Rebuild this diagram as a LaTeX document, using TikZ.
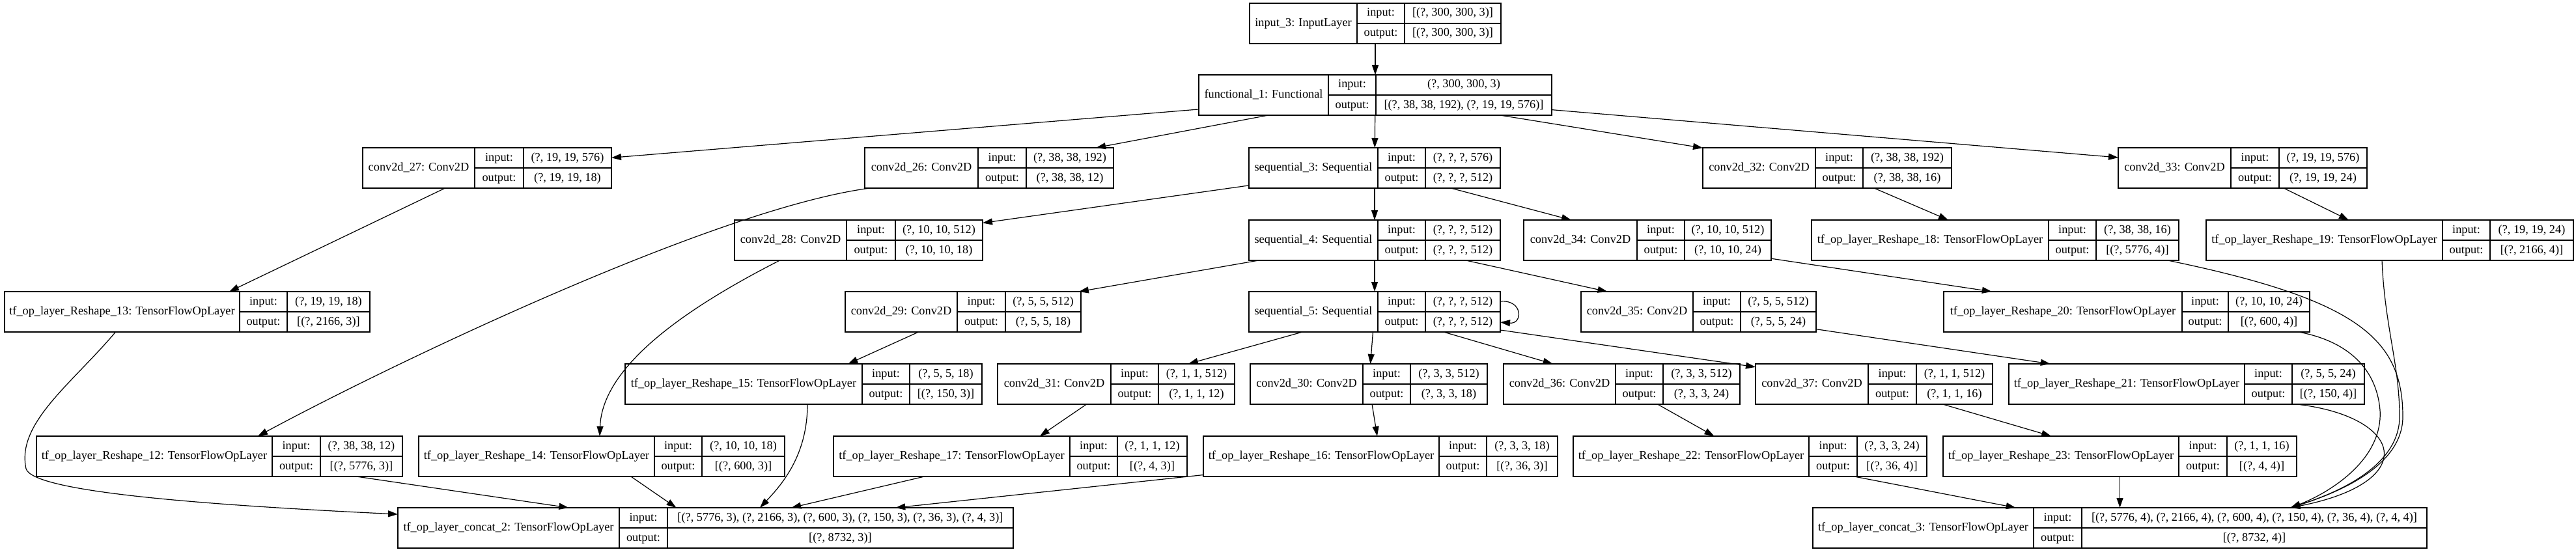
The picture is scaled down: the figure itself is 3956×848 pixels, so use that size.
\documentclass[tikz,border=0pt]{standalone}
\usepackage{fontspec}
\setmainfont{Liberation Serif}
\usetikzlibrary{arrows.meta,positioning}

\tikzset{
  layer/.style={draw=black,rectangle,line width=1.2pt,inner sep=0pt,outer sep=0pt,minimum height=62pt},
  cell/.style={inner sep=0pt,text height=13pt,text depth=4pt,font=\fontsize{18.3}{21}\selectfont},
  link/.style={->,line width=1.2pt},
}

% one keras layer: name, left, col, col, right, top, label, input, output
\newcommand{\layer}[9]{%
  \node[layer,minimum width={#5-#2}] (#1) at ({(#2+#5)/2},{#6+31}) {};
  \draw[line width=1.2pt] ({#3},{#6}) -- ({#3},{#6+62});
  \draw[line width=1.2pt] ({#4},{#6}) -- ({#4},{#6+62});
  \draw[line width=1.2pt] ({#3},{#6+31}) -- ({#5},{#6+31});
  \node[cell] (#1-name) at ({(#2+#3)/2},{#6+31}) {#7};
  \node[cell] (#1-in) at ({(#3+#4)/2},{#6+15.5}) {input:};
  \node[cell] (#1-out) at ({(#3+#4)/2},{#6+46.5}) {output:};
  \node[cell] (#1-inv) at ({(#4+#5)/2},{#6+15.5}) {#8};
  \node[cell] (#1-outv) at ({(#4+#5)/2},{#6+46.5}) {#9};
}

\begin{document}
\begin{tikzpicture}[x=1pt,y=-1pt,>={Triangle[length=15pt,width=10pt]}]
\useasboundingbox (0,0) rectangle (3956,848);

\layer{inp}{1919}{2084}{2157}{2305}{5}{input\_3: InputLayer}{[(?, 300, 300, 3)]}{[(?, 300, 300, 3)]}
\layer{fn}{1841}{2040}{2113}{2383}{115}{functional\_1: Functional}{(?, 300, 300, 3)}{[(?, 38, 38, 192), (?, 19, 19, 576)]}

\layer{c27}{557}{729}{804}{939}{227}{conv2d\_27: Conv2D}{(?, 19, 19, 576)}{(?, 19, 19, 18)}
\layer{c26}{1328}{1502}{1576}{1710}{227}{conv2d\_26: Conv2D}{(?, 38, 38, 192)}{(?, 38, 38, 12)}
\layer{s3}{1918}{2116}{2189}{2304}{227}{sequential\_3: Sequential}{(?, ?, ?, 576)}{(?, ?, ?, 512)}
\layer{c32}{2615}{2788}{2861}{2997}{227}{conv2d\_32: Conv2D}{(?, 38, 38, 192)}{(?, 38, 38, 16)}
\layer{c33}{3253}{3426}{3500}{3635}{227}{conv2d\_33: Conv2D}{(?, 19, 19, 576)}{(?, 19, 19, 24)}

\layer{c28}{1128}{1300}{1375}{1509}{338}{conv2d\_28: Conv2D}{(?, 10, 10, 512)}{(?, 10, 10, 18)}
\layer{s4}{1918}{2116}{2189}{2304}{338}{sequential\_4: Sequential}{(?, ?, ?, 512)}{(?, ?, ?, 512)}
\layer{c34}{2340}{2514}{2587}{2720}{338}{conv2d\_34: Conv2D}{(?, 10, 10, 512)}{(?, 10, 10, 24)}
\layer{r18}{2782}{3146}{3219}{3346}{338}{tf\_op\_layer\_Reshape\_18: TensorFlowOpLayer}{(?, 38, 38, 16)}{[(?, 5776, 4)]}
\layer{r19}{3388}{3751}{3824}{3952}{338}{tf\_op\_layer\_Reshape\_19: TensorFlowOpLayer}{(?, 19, 19, 24)}{[(?, 2166, 4)]}

\layer{r13}{7}{368}{441}{568}{448}{tf\_op\_layer\_Reshape\_13: TensorFlowOpLayer}{(?, 19, 19, 18)}{[(?, 2166, 3)]}
\layer{c29}{1298}{1470}{1544}{1660}{448}{conv2d\_29: Conv2D}{(?, 5, 5, 512)}{(?, 5, 5, 18)}
\layer{s5}{1918}{2116}{2189}{2304}{448}{sequential\_5: Sequential}{(?, ?, ?, 512)}{(?, ?, ?, 512)}
\layer{c35}{2428}{2600}{2673}{2789}{448}{conv2d\_35: Conv2D}{(?, 5, 5, 512)}{(?, 5, 5, 24)}
\layer{r20}{2985}{3351}{3422}{3547}{448}{tf\_op\_layer\_Reshape\_20: TensorFlowOpLayer}{(?, 10, 10, 24)}{[(?, 600, 4)]}

\layer{r15}{960}{1324}{1397}{1508}{559}{tf\_op\_layer\_Reshape\_15: TensorFlowOpLayer}{(?, 5, 5, 18)}{[(?, 150, 3)]}
\layer{c31}{1532}{1706}{1779}{1896}{559}{conv2d\_31: Conv2D}{(?, 1, 1, 512)}{(?, 1, 1, 12)}
\layer{c30}{1920}{2093}{2166}{2284}{559}{conv2d\_30: Conv2D}{(?, 3, 3, 512)}{(?, 3, 3, 18)}
\layer{c36}{2309}{2481}{2554}{2672}{559}{conv2d\_36: Conv2D}{(?, 3, 3, 512)}{(?, 3, 3, 24)}
\layer{c37}{2696}{2869}{2943}{3060}{559}{conv2d\_37: Conv2D}{(?, 1, 1, 512)}{(?, 1, 1, 16)}
\layer{r21}{3085}{3447}{3520}{3631}{559}{tf\_op\_layer\_Reshape\_21: TensorFlowOpLayer}{(?, 5, 5, 24)}{[(?, 150, 4)]}

\layer{r12}{56}{418}{492}{618}{670}{tf\_op\_layer\_Reshape\_12: TensorFlowOpLayer}{(?, 38, 38, 12)}{[(?, 5776, 3)]}
\layer{r14}{643}{1005}{1078}{1205}{670}{tf\_op\_layer\_Reshape\_14: TensorFlowOpLayer}{(?, 10, 10, 18)}{[(?, 600, 3)]}
\layer{r17}{1280}{1643}{1716}{1823}{670}{tf\_op\_layer\_Reshape\_17: TensorFlowOpLayer}{(?, 1, 1, 12)}{[(?, 4, 3)]}
\layer{r16}{1848}{2210}{2283}{2392}{670}{tf\_op\_layer\_Reshape\_16: TensorFlowOpLayer}{(?, 3, 3, 18)}{[(?, 36, 3)]}
\layer{r22}{2416}{2778}{2852}{2959}{670}{tf\_op\_layer\_Reshape\_22: TensorFlowOpLayer}{(?, 3, 3, 24)}{[(?, 36, 4)]}
\layer{r23}{2984}{3346}{3420}{3527}{670}{tf\_op\_layer\_Reshape\_23: TensorFlowOpLayer}{(?, 1, 1, 16)}{[(?, 4, 4)]}

\layer{cat2}{611}{951}{1025}{1556}{780}{tf\_op\_layer\_concat\_2: TensorFlowOpLayer}{[(?, 5776, 3), (?, 2166, 3), (?, 600, 3), (?, 150, 3), (?, 36, 3), (?, 4, 3)]}{[(?, 8732, 3)]}
\layer{cat3}{2784}{3123}{3197}{3727}{780}{tf\_op\_layer\_concat\_3: TensorFlowOpLayer}{[(?, 5776, 4), (?, 2166, 4), (?, 600, 4), (?, 150, 4), (?, 36, 4), (?, 4, 4)]}{[(?, 8732, 4)]}

\draw[link] (inp) -- (fn);
\draw[link] (fn) -- (c27);
\draw[link] (fn) -- (c26);
\draw[link] (fn) -- (s3);
\draw[link] (fn) -- (c32);
\draw[link] (fn) -- (c33);
\draw[link] (s3) -- (c28);
\draw[link] (s3) -- (s4);
\draw[link] (s3) -- (c34);
\draw[link] (s4) -- (c29);
\draw[link] (s4) -- (s5);
\draw[link] (s4) -- (c35);
\draw[link] ([yshift=16]s5.east) .. controls +(35,-3) and +(35,3) .. ([yshift=-16]s5.east);
\draw[link] (s5) -- (c31);
\draw[link] (s5) -- (c30);
\draw[link] (s5) -- (c36);
\draw[link] (s5) -- (c37);
\draw[link] (c27) -- (r13);
\draw[link] (c32) -- (r18);
\draw[link] (c33) -- (r19);
\draw[link] (c34) -- (r20);
\draw[link] (c29) -- (r15);
\draw[link] (c35) -- (r21);
\draw[link] (c31) -- (r17);
\draw[link] (c30) -- (r16);
\draw[link] (c36) -- (r22);
\draw[link] (c37) -- (r23);
\draw[link] ([xshift=8]c26.south west) .. controls (1100,320) and (600,560) .. ([xshift=59]r12.north);
\draw[link] ([xshift=-121]c28.south) .. controls (1060,470) and (925,560) .. ([xshift=-3]r14.north);

\draw[link] (r12) -- (cat2);
\draw[link] (r14) -- (cat2);
\draw[link] (r17) -- (cat2);
\draw[link] (r16) -- (cat2);
\draw[link] ([xshift=-110]r13.south) .. controls (110,590) and (25,650) .. (40,720) .. controls (50,755) and (300,775) .. ([yshift=21]cat2.west);
\draw[link] ([xshift=6]r15.south) .. controls (1240,700) and (1200,745) .. ([xshift=83.5]cat2.north);

\draw[link] (r22) -- (cat3);
\draw[link] (r23) -- (cat3);
\draw[link] ([xshift=169]r21.south) .. controls (3690,640) and (3720,740) .. ([xshift=262]cat3.north);
\draw[link] ([xshift=265]r18.south) .. controls (3620,460) and (3690,520) .. (3690,640) .. controls (3690,720) and (3580,760) .. ([xshift=262]cat3.north);
\draw[link] ([xshift=-12]r19.south) .. controls (3662,500) and (3685,560) .. (3685,640) .. controls (3685,720) and (3580,760) .. ([xshift=262]cat3.north);
\draw[link] ([xshift=264]r20.south) .. controls (3610,525) and (3650,570) .. (3655,630) .. controls (3660,710) and (3570,760) .. ([xshift=262]cat3.north);

\end{tikzpicture}
\end{document}
